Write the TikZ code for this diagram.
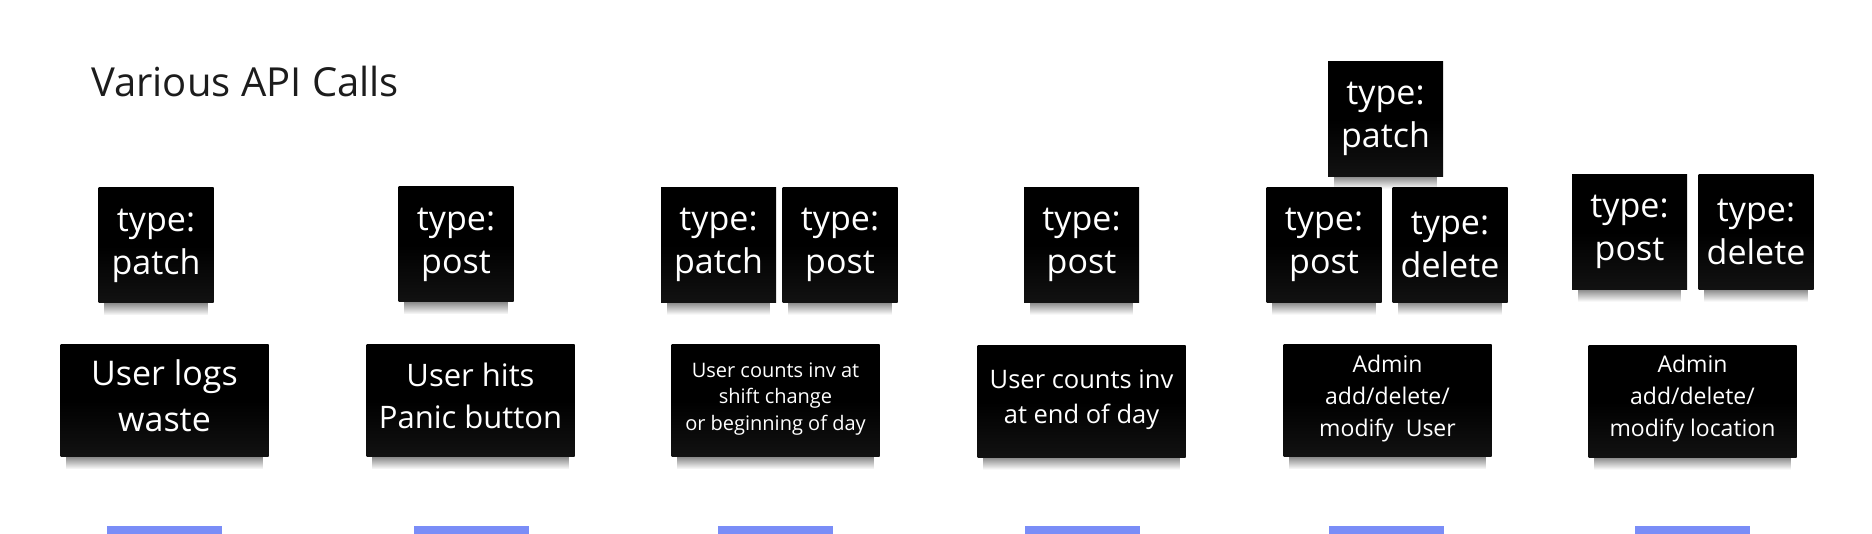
\documentclass[tikz,border=0pt]{standalone}
\usepackage{fontspec}
\setmainfont{Open Sans}
\usetikzlibrary{fadings,backgrounds}
\definecolor{barblue}{RGB}{122,141,247}
\definecolor{titlegray}{RGB}{28,28,28}
\begin{document}
\begin{tikzpicture}[x=1pt,y=-1pt,
  note/.style={shape=rectangle, inner sep=0pt, align=center, text=white,
    top color=black, bottom color=black!93!white, middle color=black},
  typenote/.style={note, minimum width=115pt, minimum height=115pt,
    font=\fontsize{34}{43}\selectfont},
  mainnote/.style={note, minimum width=208pt, minimum height=112pt},
  maintext/.style={inner sep=0pt, align=center, text=white},
  bluebar/.style={fill=barblue, inner sep=0pt, minimum width=115pt, minimum height=9pt},
  notesh/.style={black, opacity=0.45, path fading=south}]
\useasboundingbox (0,0) rectangle (1872,534);

\node[anchor=base west, font=\fontsize{40}{48}\selectfont, text=titlegray, inner sep=0pt]
  (title) at (91,97) {Various API Calls};

% type notes
\node[typenote] (t1) at (156,245.5) {type:\\patch};
\node[typenote] (t2) at (456,244.5) {type:\\post};
\node[typenote] (t3a) at (718.5,245) {type:\\patch};
\node[typenote] (t3b) at (840,245) {type:\\post};
\node[typenote] (t4) at (1081.5,245) {type:\\post};
\node[typenote] (t5top) at (1385.5,119) {type:\\patch};
\node[typenote] (t5a) at (1324,245) {type:\\post};
\node[typenote] (t5b) at (1450,245) {type:\\delete};
\node[typenote] (t6a) at (1629.5,232) {type:\\post};
\node[typenote] (t6b) at (1756,232) {type:\\delete};

% main notes
\node[mainnote] (m1) at (164.5,401) {};
\node[mainnote] (m2) at (470.5,401) {};
\node[mainnote] (m3) at (775.5,401) {};
\node[mainnote] (m4) at (1081.5,401.5) {};
\node[mainnote] (m5) at (1387.5,401) {};
\node[mainnote] (m6) at (1692.5,401.5) {};

\node[maintext, font=\fontsize{34}{46}\selectfont] (m1t) at ([yshift=5.5pt]m1.center) {User logs\\waste};
\node[maintext, font=\fontsize{31}{42}\selectfont] (m2t) at ([yshift=5pt]m2.center) {User hits\\Panic button};
\node[maintext, font=\fontsize{20}{26.5}\selectfont] (m3t) at ([yshift=2pt]m3.center) {User counts inv at\\shift change\\or beginning of day};
\node[maintext, font=\fontsize{25.5}{35}\selectfont] (m4t) at ([yshift=2pt]m4.center) {User counts inv\\at end of day};
\node[maintext, font=\fontsize{23}{32}\selectfont] (m5t) at ([yshift=2.5pt]m5.center) {Admin\\add/delete/\\modify~ User};
\node[maintext, font=\fontsize{23}{32}\selectfont] (m6t) at ([yshift=2.5pt]m6.center) {Admin\\add/delete/\\modify location};

% blue bars
\node[bluebar] (b1) at (164,530.5) {};
\node[bluebar] (b2) at (471,530.5) {};
\node[bluebar] (b3) at (775,530.5) {};
\node[bluebar] (b4) at (1082,530.5) {};
\node[bluebar] (b5) at (1386,530.5) {};
\node[bluebar] (b6) at (1692,530.5) {};

\begin{pgfonlayer}{background}
\foreach \n in {t1,t2,t3a,t3b,t4,t5top,t5a,t5b,t6a,t6b,m1,m2,m3,m4,m5,m6} {
  \fill[notesh] ([xshift=6pt]\n.south west) rectangle ([xshift=-6pt,yshift=-12pt]\n.south east);
}
\end{pgfonlayer}
\end{tikzpicture}
\end{document}
